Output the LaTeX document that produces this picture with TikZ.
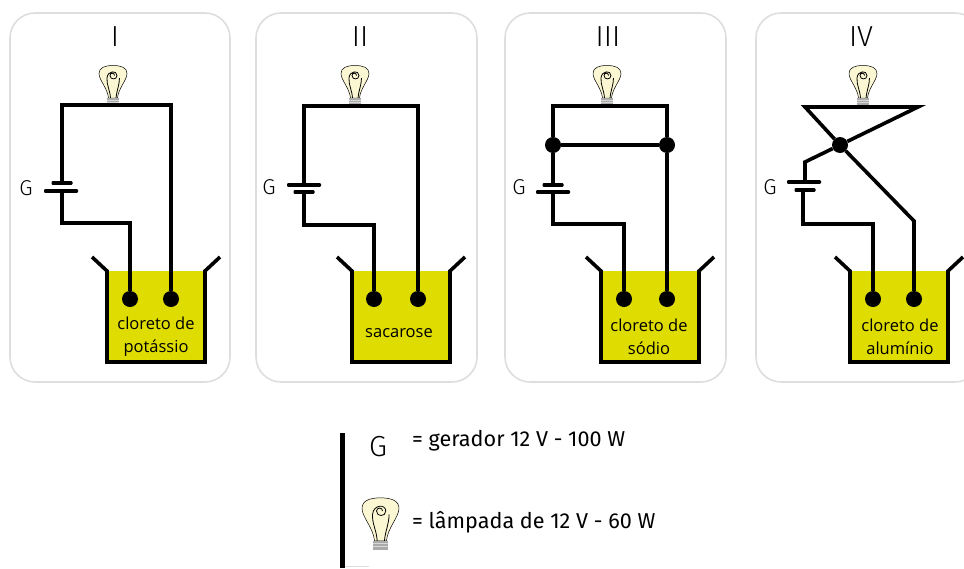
\documentclass[tikz,border=0pt]{standalone}
\usepackage{fontspec}
\usepackage{xcolor}
\usetikzlibrary{positioning, calc}
\setmainfont{Open Sans}
\newfontfamily\din{Fira Sans}
\newfontfamily\dinlight{Fira Sans Light}
\definecolor{panelGray}{RGB}{222, 222, 222}
\definecolor{liquidYellow}{RGB}{222, 220, 0}
\definecolor{bulbCream}{RGB}{251, 247, 210}
\definecolor{bulbBase}{RGB}{170, 170, 170}

\begin{document}
\begin{tikzpicture}[
    x=1pt, y=-1pt,
    panel/.style={draw=panelGray, line width=1.6pt, rounded corners=25pt, fill=white},
    wire/.style={draw=black, line width=3.6pt, line join=miter},
    electrode/.style={circle, fill=black, inner sep=0pt, minimum size=16pt},
    junction/.style={circle, fill=black, inner sep=0pt, minimum size=16pt},
    shortplate/.style={rectangle, fill=black, rounded corners=1pt, inner sep=0pt, minimum width=21pt, minimum height=3.6pt},
    longplate/.style={rectangle, fill=black, rounded corners=1pt, inner sep=0pt, minimum width=34pt, minimum height=3.6pt},
    numeral/.style={font=\dinlight\fontsize{29}{29}\selectfont, inner sep=0pt},
    genlabel/.style={font=\dinlight\fontsize{21.5}{21.5}\selectfont, inner sep=0pt},
    legendtext/.style={font=\din\fontsize{21.6}{21.6}\selectfont, inner sep=0pt, anchor=west},
    solution/.style={font=\fontsize{16.5}{23}\selectfont, align=center, inner sep=0pt},
    beaker/.pic={
        \fill[liquidYellow] (0,0) rectangle (98,91);
        \draw[line width=3.6pt, miter limit=10] (-15,-14) -- (0,0) -- (0,91) -- (98,91) -- (98,0) -- (113,-14);
    },
    lampada/.pic={
        \draw[fill=bulbCream, draw=black, line width=0.5pt]
            (-4.5,-7) .. controls (-5.5,-17) and (-14,-25) .. (-14,-31.5)
            .. controls (-14,-37.5) and (-8,-39.5) .. (0,-39.5)
            .. controls (8,-39.5) and (14,-37.5) .. (14,-31.5)
            .. controls (14,-25) and (5.5,-17) .. (4.5,-7) -- cycle;
        \draw[line width=0.8pt] (-2.5,-7) .. controls (-3,-15) and (-6.5,-20) .. (-6,-27)
            .. controls (-5.5,-34.5) and (4,-35) .. (4,-29.5)
            .. controls (4,-25) and (-3,-25) .. (-3,-29.5)
            .. controls (-3,-32.5) and (1.8,-32.5) .. (1.5,-29.5);
        \draw[line width=0.8pt] (3,-7) .. controls (3.5,-14) and (6.5,-20) .. (6.5,-27);
        \fill[bulbBase] (-6,-7) rectangle (6,0);
        \draw[white!85!black, line width=0.7pt] (-6,-4.8) -- (6,-4.8) (-6,-2.4) -- (6,-2.4);
    }
]
    % Bounds
    \clip (0,0) rectangle (964,568);

    % Panels
    \draw[panel] (10,13) rectangle (230,382);
    \draw[panel] (256,13) rectangle (477,382);
    \draw[panel] (505,13) rectangle (726,382);
    \draw[panel] (756,13) rectangle (980,382);

    % Panel I
    \node[numeral] (numI) at (115,37) {I};
    \pic at (107,271) {beaker};
    \pic at (113,105) {lampada};
    \node[genlabel] (genI) at (26,188) {G};
    \node[shortplate] (plusI) at (62,183) {};
    \node[longplate] (minusI) at (61,191) {};
    \node[electrode] (elecIa) at (130,299) {};
    \node[electrode] (elecIb) at (171,299) {};
    \coordinate (cornerIa) at (62,105);
    \coordinate (cornerIb) at (171,105);
    \coordinate (bendI) at (62,223);
    \draw[wire] (plusI.center) -- (cornerIa) -- (cornerIb) -- (elecIb);
    \draw[wire] (minusI.center -| bendI) -- (bendI) -| (elecIa);
    \node[solution] (solI) at (156,337) {cloreto de\\potássio};

    % Panel II
    \node[numeral] (numII) at (360,37) {II};
    \pic at (352,271) {beaker};
    \pic at (355,105) {lampada};
    \node[genlabel] (genII) at (269,187) {G};
    \node[longplate] (plusII) at (304,185) {};
    \node[shortplate] (minusII) at (304,192) {};
    \node[electrode] (elecIIa) at (374,299) {};
    \node[electrode] (elecIIb) at (418,299) {};
    \coordinate (cornerIIa) at (304,106);
    \coordinate (cornerIIb) at (418,106);
    \coordinate (bendII) at (304,225);
    \draw[wire] (plusII.center) -- (cornerIIa) -- (cornerIIb) -- (elecIIb);
    \draw[wire] (minusII.center) -- (bendII) -| (elecIIa);
    \node[solution] (solII) at (399,333) {sacarose};

    % Panel III
    \node[numeral] (numIII) at (608,37) {III};
    \pic at (601,271) {beaker};
    \pic at (607,105) {lampada};
    \node[genlabel] (genIII) at (519,187) {G};
    \node[shortplate] (plusIII) at (553,185) {};
    \node[longplate] (minusIII) at (553,192) {};
    \node[junction] (nodeIIIa) at (553,145) {};
    \node[junction] (nodeIIIb) at (667,145) {};
    \node[electrode] (elecIIIa) at (624,299) {};
    \node[electrode] (elecIIIb) at (667,299) {};
    \coordinate (cornerIIIa) at (553,106);
    \coordinate (cornerIIIb) at (667,106);
    \coordinate (bendIII) at (553,224);
    \draw[wire] (plusIII.center) -- (nodeIIIa) -- (cornerIIIa) -- (cornerIIIb) -- (nodeIIIb) -- (elecIIIb);
    \draw[wire] (nodeIIIa) -- (nodeIIIb);
    \draw[wire] (minusIII.center) -- (bendIII) -| (elecIIIa);
    \node[solution] (solIII) at (649,337) {cloreto de\\sódio};

    % Panel IV
    \node[numeral] (numIV) at (861,37) {IV};
    \pic at (850,271) {beaker};
    \pic at (863,105) {lampada};
    \node[genlabel] (genIV) at (770,187) {G};
    \node[longplate] (plusIV) at (804,182) {};
    \node[shortplate] (minusIV) at (805,190) {};
    \node[junction] (nodeIV) at (840,145) {};
    \node[electrode] (elecIVa) at (873,299) {};
    \node[electrode] (elecIVb) at (914,299) {};
    \coordinate (cornerIVa) at (805,107);
    \coordinate (cornerIVb) at (918,107);
    \coordinate (kneeIVa) at (805,162);
    \coordinate (kneeIVb) at (914,221);
    \coordinate (bendIV) at (803,224);
    \draw[wire] (plusIV.center -| kneeIVa) -- (kneeIVa) -- (nodeIV) -- (cornerIVb) -- (cornerIVa) -- (nodeIV) -- (kneeIVb) -- (elecIVb);
    \draw[wire] (minusIV.center -| bendIV) -- (bendIV) -| (elecIVa);
    \node[solution] (solIV) at (900,337) {cloreto de\\alumínio};

    % Legend
    \fill[panelGray] (345,565.5) rectangle (369,567);
    \fill[black] (340,433) rectangle (345,568);
    \node[font=\dinlight\fontsize{29}{29}\selectfont, inner sep=0pt] (genKey) at (378,447) {G};
    \node[legendtext] (genText) at (412,441) {= gerador 12 V - 100 W};
    \pic[scale=1.32] at (380.5,550) {lampada};
    \node[legendtext] (lampText) at (412,522) {= lâmpada de 12 V - 60 W};
\end{tikzpicture}
\end{document}
